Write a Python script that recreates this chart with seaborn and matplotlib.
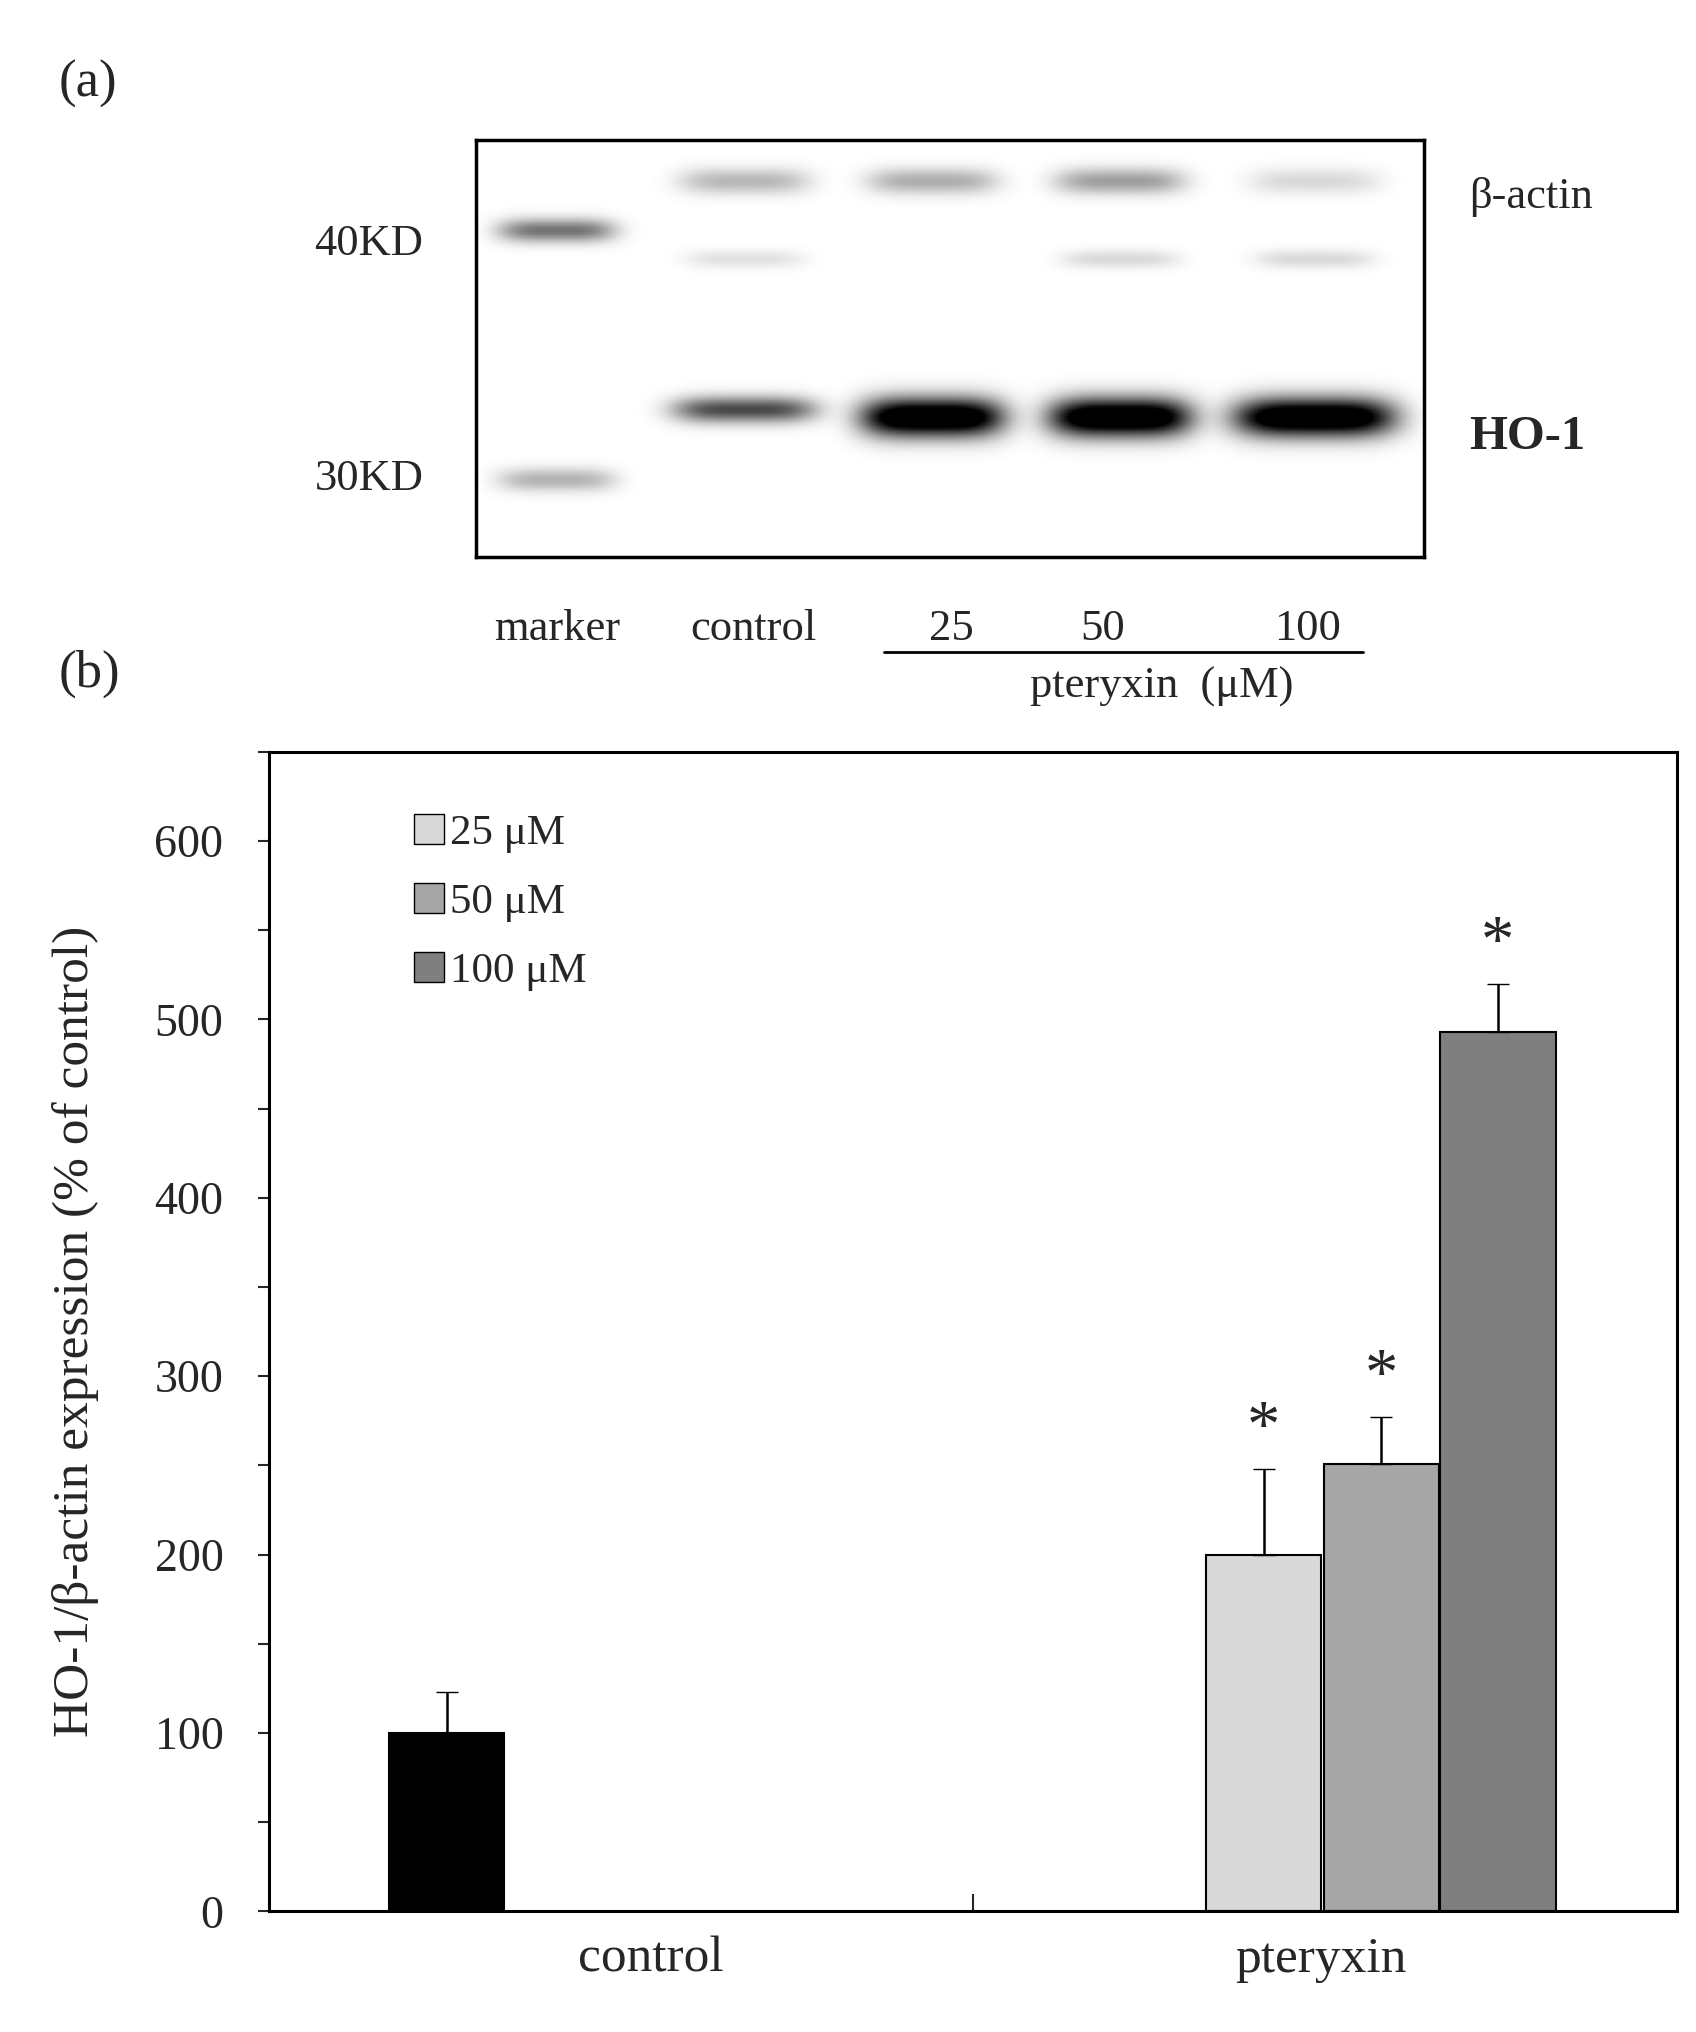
import numpy as np
import matplotlib
matplotlib.use("Agg")
import matplotlib.pyplot as plt
import seaborn as sns
from matplotlib.patches import Patch

sns.set_style("white")
plt.rcParams['font.family'] = ['Liberation Serif', 'DejaVu Serif']

# ---- data ----
groups = ["control", "pteryxin"]
conc_labels = ["25 \u03bcM", "50 \u03bcM", "100 \u03bcM"]
control_val = [100]
control_err = [23]
pter_vals = [200, 251, 493]
pter_err = [48, 26, 27]
bar_colors = ["#000000", "#d9d9d9", "#a6a6a6", "#7f7f7f"]

lanes = ["marker", "control", "25", "50", "100"]
actin_int = [0.0, 0.28, 0.32, 0.38, 0.15]
ho1_int = [0.0, 0.55, 1.0, 1.0, 1.0]
faint_int = [0.0, 0.12, 0.0, 0.15, 0.15]
marker_bands = {"40KD": 0.55, "30KD": 0.3}

W, H = 1310, 1568
fig = plt.figure(figsize=(16.96, 20.32), dpi=100)

def fx(x): return x / W
def fy(y): return 1 - y / H

# ---- panel (a): blot ----
bx0, bx1, by0, by1 = 368, 1100, 108, 430
axb = fig.add_axes([fx(bx0), fy(by1), (bx1 - bx0) / W, (by1 - by0) / H])
ny, nx = 322, 732
yy, xx = np.mgrid[0:ny, 0:nx]
img = np.zeros((ny, nx))
lane_x = [430, 575, 720, 865, 1015]
def band(cx, cy, inten, hw, hh):
    return inten * np.exp(-(((xx - (cx - bx0)) / hw) ** 4) - ((yy - (cy - by0)) / hh) ** 2)
img += band(lane_x[0], 178, marker_bands["40KD"], 45, 9)
img += band(lane_x[0], 370, marker_bands["30KD"], 45, 9)
for i in range(1, 5):
    img += band(lane_x[i], 140, actin_int[i], 50, 10)
    img += band(lane_x[i], 200, faint_int[i], 45, 7)
    img += 1.3 * band(lane_x[i], 322 if i > 1 else 316, ho1_int[i], 55 if i < 4 else 62, 15 if i > 1 else 10)
axb.imshow(np.clip(img, 0, 1), cmap="gray_r", vmin=0, vmax=1, aspect="auto")
axb.set_xticks([]); axb.set_yticks([])
for s in axb.spines.values():
    s.set_linewidth(2.5); s.set_color("black")

fs = 32
fig.text(fx(45), fy(65), "(a)", fontsize=38, va="center")
fig.text(fx(45), fy(520), "(b)", fontsize=38, va="center")
fig.text(fx(285), fy(188), "40KD", fontsize=fs, ha="center", va="center")
fig.text(fx(285), fy(370), "30KD", fontsize=fs, ha="center", va="center")
fig.text(fx(1135), fy(152), "\u03b2-actin", fontsize=fs, ha="left", va="center")
fig.text(fx(1135), fy(337), "HO-1", fontsize=35, fontweight="bold", ha="left", va="center")
for lab, x in zip(lanes, [430, 582, 735, 852, 1010]):
    fig.text(fx(x), fy(485), lab, fontsize=fs, ha="center", va="center")
fig.add_artist(plt.Line2D([fx(683), fx(1053)], [fy(503), fy(503)], color="black", lw=2))
fig.text(fx(897), fy(530), "pteryxin  (\u03bcM)", fontsize=fs, ha="center", va="center")

# ---- panel (b): bars ----
ax = fig.add_axes([fx(208), fy(1475), (1295 - 208) / W, (1475 - 580) / H])
pos_c = [(345 - 208) / 1087]
pos_p = [(976 - 208) / 1087, (1067 - 208) / 1087, (1157 - 208) / 1087]
bw = 89 / 1087
ax.bar(pos_c, control_val, width=bw, color=bar_colors[0], edgecolor="black", lw=1.5)
ax.errorbar(pos_c, control_val, yerr=[[0], control_err], fmt="none", ecolor="black", capsize=8, lw=1.8)
ax.bar(pos_p, pter_vals, width=bw, color=bar_colors[1:], edgecolor="black", lw=1.5)
ax.errorbar(pos_p, pter_vals, yerr=[[0] * 3, pter_err], fmt="none", ecolor="black", capsize=8, lw=1.8)
for p, v, e in zip(pos_p, pter_vals, pter_err):
    ax.text(p, v + e + 5, "*", fontsize=48, ha="center", va="bottom")

ax.set_xlim(0, 1)
ax.set_ylim(0, 650)
ax.set_yticks(range(0, 601, 100))
ax.set_yticks(range(50, 651, 100), minor=True)
ax.tick_params(axis="y", which="major", direction="out", length=8, width=1.5, labelsize=33, pad=25, left=True)
ax.tick_params(axis="y", which="minor", direction="out", length=8, width=1.5, left=True)
ax.set_xticks([(503 - 208) / 1087, (1020 - 208) / 1087])
ax.set_xticklabels(groups, fontsize=37)
ax.tick_params(axis="x", which="major", length=0, pad=18)
ax.set_xticks([0.5], minor=True)
ax.tick_params(axis="x", which="minor", direction="in", length=12, width=1.5, bottom=True)
ax.set_ylabel("HO-1/\u03b2-actin expression (% of control)", fontsize=37, labelpad=40)
for s in ax.spines.values():
    s.set_linewidth(2.2); s.set_color("black")

handles = [Patch(facecolor=c, edgecolor="black", lw=1) for c in bar_colors[1:]]
ax.legend(handles, conc_labels, loc="upper left", bbox_to_anchor=(0.075, 0.98), frameon=False,
          fontsize=31, handlelength=0.7, handleheight=0.7, handletextpad=0.15, labelspacing=0.7)

fig.savefig("out.png", dpi=100, facecolor="white")
